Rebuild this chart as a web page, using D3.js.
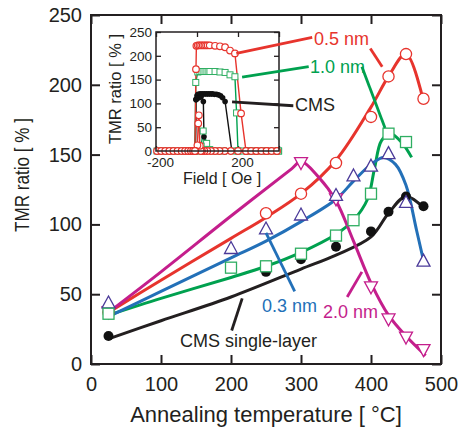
<!DOCTYPE html>
<html>
<head>
<meta charset="utf-8">
<script src="https://cdn.jsdelivr.net/npm/d3@7"></script>
<style>
  body { margin: 0; background: #fff; }
  svg { display: block; font-family: "Liberation Sans", Arial, Helvetica, sans-serif; }
</style>
</head>
<body>
<div id="chart"></div>
<script>
// ---- main panel: TMR ratio (%) vs annealing temperature (°C) ----
var cmsT = [25, 250, 300, 350, 400, 425, 450, 475];
var cmsV = [20, 66, 75, 84, 95, 109, 120, 113];
var cmsFitT = [25, 100, 200, 300, 350, 400, 425, 450, 475];
var cmsFitV = [18, 31, 48, 68, 78, 91, 108, 120, 112];

var nm05T = [25, 250, 300, 350, 400, 425, 450, 475];
var nm05V = [37, 108, 122, 144, 177, 206, 222, 190];
var nm05FitT = [25, 100, 200, 250, 300, 350, 400, 425, 450, 475];
var nm05FitV = [37, 60, 90, 105, 122, 146, 184, 206, 222, 188];

var nm10T = [25, 200, 250, 300, 350, 375, 400, 425, 450];
var nm10V = [36, 69, 70, 79, 92, 103, 122, 165, 159];
var nm10FitT = [25, 100, 200, 250, 300, 350, 375, 395, 405, 415, 428, 445, 458];
var nm10FitV = [35, 47, 62, 70, 80, 93, 103, 118, 140, 160, 165, 158, 148];

var nm03T = [25, 200, 250, 300, 350, 375, 400, 425, 450, 475];
var nm03V = [43, 82, 96, 106, 120, 134, 141, 150, 115, 73];
var nm03FitT = [25, 100, 200, 250, 300, 350, 375, 400, 418, 435, 450, 465, 475];
var nm03FitV = [34, 52, 76, 88, 102, 118, 131, 143, 148, 143, 128, 96, 74];

var nm20T = [25, 300, 350, 400, 425, 450, 475];
var nm20V = [38, 145, 119, 56, 33, 20, 11];
var nm20FitT = [25, 100, 200, 287, 300, 325, 350, 375, 400, 425, 450, 478];
var nm20FitV = [37, 66, 106, 140, 145, 134, 117, 88, 58, 35, 20, 6];

var xTicks = [0, 100, 200, 300, 400, 500];
var yTicks = [0, 50, 100, 150, 200, 250];

// ---- inset: TMR ratio (%) vs field (Oe) ----
var redUpH = [-195, -175, -155, -135, -115, -95, -75, -58, -43, -30, -19, -10, -5, -3, 4, 12, 20, 28, 36, 44, 52, 62, 88, 112, 137, 161, 185, 215, 239, 264, 289, 314, 339, 364, 390];
var redUpV = [0, 0, 0, 0, 0, 0, 0, 0, 0, 0, 0, 0, 172, 221, 222, 222, 222, 222, 222, 222, 222, 222, 221, 220, 218, 211, 205, 79, 0, 0, 0, 0, 0, 0, 0];
var redDnH = [390, 340, 290, 240, 200, 165, 135, 110, 88, 68, 50, 36, 24, 18, 14, 9, 6, 2, -8, -20];
var redDnV = [0, 0, 0, 0, 0, 0, 0, 0, 0, 0, 0, 0, 0, 0, 11, 75, 58, 12, 0, 0];

var greenUpH = [-195, -165, -135, -105, -75, -50, -30, -15, -10, -6, 4, 14, 24, 34, 44, 54, 63, 88, 112, 137, 161, 185, 193, 200, 225, 250, 275, 300, 325, 350, 375, 398];
var greenUpV = [0, 0, 0, 0, 0, 0, 0, 0, 0, 144, 166, 167, 167, 167, 167, 167, 167, 167, 166, 165, 160, 156, 80, 0, 0, 0, 0, 0, 0, 0, 0, 0];
var greenDnH = [398, 330, 260, 190, 130, 90, 62, 47, 30, 20, 10, -15];
var greenDnV = [0, 0, 0, 0, 0, 0, 3, 16, 42, 10, 0, 0];

var blackUpH = [-195, -100, -20, -8, -5, 0, 5, 15, 25, 35, 45, 55, 65, 75, 85, 95, 105, 115, 125, 137, 170, 250, 400];
var blackUpV = [0, 0, 0, 0, 108, 116, 119, 120, 120, 120, 120, 120, 120, 120, 119, 119, 118, 116, 112, 104, 0, 0, 0];
var blackDnH = [400, 200, 60, 38, 34, 31, 20, 10, 0, -5, -8, -100];
var blackDnV = [0, 0, 0, 0, 30, 104, 114, 112, 110, 108, 0, 0];

var insetXTicks = [-200, 0, 200, 400];
var insetYTicks = [0, 50, 100, 150, 200, 250];

// colours
var ink = '#231f20';
var red = '#e7342d', green = '#00a14f', greenMark = '#2fae62';
var blue = '#2370b8', violet = '#4b3a99', magenta = '#c41e8c';

var width = 458, height = 429;

var svg = d3.select('#chart').append('svg')
    .attr('width', width)
    .attr('height', height);

// scales
var x = d3.scaleLinear().domain([0, 500]).range([91, 441]);
var y = d3.scaleLinear().domain([0, 250]).range([364, 15]);
var ix = d3.scaleLinear().domain([-200, 400]).range([156, 279]);
var iy = d3.scaleLinear().domain([0, 250]).range([151, 32]);

function styleAxis(g, size) {
    g.select('.domain').remove();
    g.selectAll('line').attr('stroke', ink).attr('stroke-width', 2);
    g.selectAll('text').attr('fill', ink).style('font-size', size + 'px')
        .style('font-family', '"Liberation Sans", Arial, sans-serif');
}

// main axes (ticks inside)
svg.append('g').attr('transform', 'translate(0,' + y(0) + ')')
    .call(d3.axisBottom(x).tickValues(xTicks).tickSize(-9).tickPadding(13))
    .call(styleAxis, 20);
svg.append('g').attr('transform', 'translate(' + x(0) + ',0)')
    .call(d3.axisLeft(y).tickValues(yTicks).tickSize(-9).tickPadding(9))
    .call(styleAxis, 20);
svg.append('g').attr('transform', 'translate(0,' + y(250) + ')')
    .call(d3.axisTop(x).tickValues(xTicks).tickSize(-9).tickFormat(''))
    .call(styleAxis, 20);
svg.append('g').attr('transform', 'translate(' + x(500) + ',0)')
    .call(d3.axisRight(y).tickValues(yTicks).tickSize(-9).tickFormat(''))
    .call(styleAxis, 20);

svg.append('rect')
    .attr('x', x(0)).attr('y', y(250))
    .attr('width', x(500) - x(0)).attr('height', y(0) - y(250))
    .attr('fill', 'none').attr('stroke', ink).attr('stroke-width', 2);

// axis titles
svg.append('text')
    .attr('x', (x(0) + x(500)) / 2).attr('y', 422)
    .attr('text-anchor', 'middle').attr('fill', ink)
    .style('font-size', '22px')
    .text('Annealing temperature [ °C]');

svg.append('text')
    .attr('transform', 'translate(29,175) rotate(-90)')
    .attr('text-anchor', 'middle').attr('fill', ink)
    .attr('textLength', 114).attr('lengthAdjust', 'spacingAndGlyphs')
    .style('font-size', '21px')
    .text('TMR ratio [ % ]');

// ---- guide lines ----
function pts(xs, vs) { return xs.map(function (t, i) { return [t, vs[i]]; }); }

var fitLine = d3.line()
    .x(function (d) { return x(d[0]); })
    .y(function (d) { return y(d[1]); })
    .curve(d3.curveCatmullRom.alpha(0.5));

var fits = [
    { data: pts(cmsFitT, cmsFitV), color: ink },
    { data: pts(nm10FitT, nm10FitV), color: green },
    { data: pts(nm03FitT, nm03FitV), color: blue },
    { data: pts(nm05FitT, nm05FitV), color: red },
    { data: pts(nm20FitT, nm20FitV), color: magenta }
];

svg.selectAll('.fit')
    .data(fits)
    .enter()
    .append('path')
    .attr('class', 'fit')
    .attr('d', function (d) { return fitLine(d.data); })
    .attr('fill', 'none')
    .attr('stroke', function (d) { return d.color; })
    .attr('stroke-width', 3);

// ---- markers ----
function triUp(s) {
    var h = s * 0.92;
    return 'M0,' + (-2 * h / 3) + 'L' + (s / 2) + ',' + (h / 3) + 'L' + (-s / 2) + ',' + (h / 3) + 'Z';
}
function triDown(s) {
    var h = s * 0.92;
    return 'M0,' + (2 * h / 3) + 'L' + (s / 2) + ',' + (-h / 3) + 'L' + (-s / 2) + ',' + (-h / 3) + 'Z';
}

// CMS single-layer: filled circles
svg.selectAll('.cms')
    .data(pts(cmsT, cmsV)).enter().append('circle')
    .attr('cx', function (d) { return x(d[0]); })
    .attr('cy', function (d) { return y(d[1]); })
    .attr('r', 5)
    .attr('fill', '#111');

// 0.5 nm: open circles
svg.selectAll('.nm05')
    .data(pts(nm05T, nm05V)).enter().append('circle')
    .attr('cx', function (d) { return x(d[0]); })
    .attr('cy', function (d) { return y(d[1]); })
    .attr('r', 5.6)
    .attr('fill', '#fff').attr('stroke', red).attr('stroke-width', 1.3);

// 2.0 nm: open down triangles
svg.selectAll('.nm20')
    .data(pts(nm20T, nm20V)).enter().append('path')
    .attr('transform', function (d) { return 'translate(' + x(d[0]) + ',' + y(d[1]) + ')'; })
    .attr('d', triDown(13))
    .attr('fill', '#fff').attr('stroke', magenta).attr('stroke-width', 1.3);

// 0.3 nm: open up triangles
svg.selectAll('.nm03')
    .data(pts(nm03T, nm03V)).enter().append('path')
    .attr('transform', function (d) { return 'translate(' + x(d[0]) + ',' + y(d[1]) + ')'; })
    .attr('d', triUp(13))
    .attr('fill', '#fff').attr('stroke', violet).attr('stroke-width', 1.3);

// 1.0 nm: open squares
svg.selectAll('.nm10')
    .data(pts(nm10T, nm10V)).enter().append('rect')
    .attr('x', function (d) { return x(d[0]) - 5.5; })
    .attr('y', function (d) { return y(d[1]) - 5.5; })
    .attr('width', 11).attr('height', 11)
    .attr('fill', '#fff').attr('stroke', greenMark).attr('stroke-width', 1.3);

// ---- inset ----
svg.append('rect')
    .attr('x', ix(-200)).attr('y', iy(250))
    .attr('width', ix(400) - ix(-200)).attr('height', iy(0) - iy(250))
    .attr('fill', '#fff');

function styleInset(g) {
    g.select('.domain').remove();
    g.selectAll('line').attr('stroke', ink).attr('stroke-width', 1.3);
    g.selectAll('text').attr('fill', ink).style('font-size', '13.5px')
        .style('font-family', '"Liberation Sans", Arial, sans-serif');
}

svg.append('g').attr('transform', 'translate(0,' + iy(0) + ')')
    .call(d3.axisBottom(ix).tickValues(insetXTicks).tickSize(-5).tickPadding(6)
        .tickFormat(function (d) { return d === -200 ? '-200' : (d === 200 ? '200' : ''); }))
    .call(styleInset)
    .selectAll('text').attr('dx', 4);
svg.append('g').attr('transform', 'translate(' + ix(-200) + ',0)')
    .call(d3.axisLeft(iy).tickValues(insetYTicks).tickSize(-5).tickPadding(4))
    .call(styleInset);
svg.append('g').attr('transform', 'translate(0,' + iy(250) + ')')
    .call(d3.axisTop(ix).tickValues(insetXTicks).tickSize(-5).tickFormat(''))
    .call(styleInset);
svg.append('g').attr('transform', 'translate(' + ix(400) + ',0)')
    .call(d3.axisRight(iy).tickValues(insetYTicks).tickSize(-5).tickFormat(''))
    .call(styleInset);

var loopLine = d3.line()
    .x(function (d) { return ix(d[0]); })
    .y(function (d) { return iy(d[1]); });

var loops = [
    { data: pts(blackUpH, blackUpV), color: '#111', kind: 'dot' },
    { data: pts(blackDnH, blackDnV), color: '#111', kind: 'dot' },
    { data: pts(greenDnH, greenDnV), color: green, kind: 'square' },
    { data: pts(greenUpH, greenUpV), color: green, kind: 'square' },
    { data: pts(redDnH, redDnV), color: red, kind: 'circle' },
    { data: pts(redUpH, redUpV), color: red, kind: 'circle' }
];

loops.forEach(function (s) {
    svg.append('path')
        .attr('d', loopLine(s.data))
        .attr('fill', 'none')
        .attr('stroke', s.color)
        .attr('stroke-width', 1.4);
});

loops.forEach(function (s) {
    var g = svg.append('g');
    if (s.kind === 'dot') {
        g.selectAll('circle').data(s.data.filter(function (d) { return d[1] > 0; }))
            .enter().append('circle')
            .attr('cx', function (d) { return ix(d[0]); })
            .attr('cy', function (d) { return iy(d[1]); })
            .attr('r', 2.8).attr('fill', '#111');
    } else if (s.kind === 'square') {
        g.selectAll('rect').data(s.data).enter().append('rect')
            .attr('x', function (d) { return ix(d[0]) - 3; })
            .attr('y', function (d) { return iy(d[1]) - 3; })
            .attr('width', 6).attr('height', 6)
            .attr('fill', '#fff').attr('stroke', greenMark).attr('stroke-width', 1);
    } else {
        g.selectAll('circle').data(s.data).enter().append('circle')
            .attr('cx', function (d) { return ix(d[0]); })
            .attr('cy', function (d) { return iy(d[1]); })
            .attr('r', 3.3)
            .attr('fill', '#fff').attr('stroke', red).attr('stroke-width', 1.2);
    }
});

svg.append('rect')
    .attr('x', ix(-200)).attr('y', iy(250))
    .attr('width', ix(400) - ix(-200)).attr('height', iy(0) - iy(250))
    .attr('fill', 'none').attr('stroke', ink).attr('stroke-width', 1.5);

svg.append('text')
    .attr('transform', 'translate(121,89) rotate(-90)')
    .attr('text-anchor', 'middle').attr('fill', ink)
    .style('font-size', '16.5px')
    .text('TMR ratio [ % ]');

svg.append('text')
    .attr('x', 222).attr('y', 184)
    .attr('text-anchor', 'middle').attr('fill', ink)
    .style('font-size', '16px')
    .text('Field [ Oe ]');

// ---- leader lines and labels ----
function lead(p0, p1, color, insetStart) {
    var x0 = insetStart ? ix(p0[0]) : x(p0[0]);
    var y0 = insetStart ? iy(p0[1]) : y(p0[1]);
    svg.append('line')
        .attr('x1', x0).attr('y1', y0)
        .attr('x2', x(p1[0])).attr('y2', y(p1[1]))
        .attr('stroke', color).attr('stroke-width', 2.8);
}

lead([192, 205], [316, 234], red, true);
lead([220, 155], [311, 213], green, true);
lead([171, 103], [289, 185], ink, true);
lead([399, 226], [416, 213], red);
lead([387, 213], [420, 169], green);
lead([291, 52], [250, 94], blue);
lead([366, 48], [387, 66], magenta);
lead([201, 24], [216, 47], ink);

var labels = [
    { t: 318.6, v: 228.5, text: '0.5 nm', color: red },
    { t: 312.9, v: 208.7, text: '1.0 nm', color: green },
    { t: 291.4, v: 181.2, text: 'CMS', color: ink },
    { t: 244.3, v: 37.5, text: '0.3 nm', color: blue },
    { t: 331.4, v: 33.3, text: '2.0 nm', color: magenta },
    { t: 127.1, v: 12.5, text: 'CMS single-layer', color: ink }
];

svg.selectAll('.lab')
    .data(labels).enter().append('text')
    .attr('class', 'lab')
    .attr('x', function (d) { return x(d.t); })
    .attr('y', function (d) { return y(d.v); })
    .attr('fill', function (d) { return d.color; })
    .style('font-size', '18px')
    .text(function (d) { return d.text; });
</script>
</body>
</html>
